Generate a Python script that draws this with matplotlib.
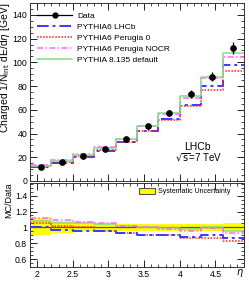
import matplotlib
matplotlib.use("Agg")
import matplotlib.pyplot as plt
import numpy as np
from matplotlib.ticker import MultipleLocator
from matplotlib.lines import Line2D
from matplotlib.patches import Patch

plt.rcParams['font.family'] = ['Liberation Sans', 'DejaVu Sans']

# ---- data ----
eta_edges = [1.9, 2.2, 2.5, 2.8, 3.1, 3.4, 3.7, 4.0, 4.3, 4.6, 4.9]
data_vals = [12.0, 16.0, 21.0, 27.0, 35.0, 46.0, 57.5, 73.0, 88.0, 112.0]
data_errs = [0.6, 0.8, 1.0, 1.3, 1.7, 2.2, 2.7, 3.4, 4.1, 5.3]
ratio_lhcb = [1.00, 0.97, 0.96, 0.95, 0.93, 0.91, 0.91, 0.88, 0.91, 0.87]
ratio_p0 = [1.06, 1.02, 1.00, 0.96, 0.93, 0.91, 0.90, 0.87, 0.87, 0.83]
ratio_nocr = [1.12, 1.09, 1.07, 1.05, 1.02, 1.00, 0.98, 0.96, 0.99, 0.93]
ratio_p8 = [1.08, 1.06, 1.05, 1.04, 1.02, 1.00, 0.99, 0.98, 1.00, 0.96]
syst_lo = [0.90, 0.93, 0.95, 0.96, 0.96, 0.96, 0.96, 0.96, 0.96, 0.96]
syst_hi = [1.12, 1.08, 1.07, 1.05, 1.04, 1.04, 1.04, 1.04, 1.04, 1.05]
x_ticks = [2, 2.5, 3, 3.5, 4, 4.5]
x_tick_labels = ['2', '2.5', '3', '3.5', '4', '4.5']

edges = np.array(eta_edges)
centers = 0.5 * (edges[:-1] + edges[1:])
dv = np.array(data_vals)

def step_y(v):
    v = np.asarray(v)
    return np.append(v, v[-1])

series = [
    ("PYTHIA6 LHCb", ratio_lhcb, dict(color='#3a3aff', lw=1.4, ls=(0, (6, 2, 1.5, 2)))),
    ("PYTHIA6 Perugia 0", ratio_p0, dict(color='#ff2020', lw=1.1, ls=(0, (1, 1)))),
    ("PYTHIA6 Perugia NOCR", ratio_nocr, dict(color='#ff66ff', lw=1.1, ls=(0, (4, 1.5, 1, 1.5)))),
    ("PYTHIA 8.135 default", ratio_p8, dict(color='#88dd88', lw=1.1, ls='-')),
]

W, H = 249, 281
fig = plt.figure(figsize=(W / 100, H / 100), dpi=100)
L, R = 30, 244
ax1 = fig.add_axes([L / W, 1 - 181 / H, (R - L) / W, (181 - 3) / H])
ax2 = fig.add_axes([L / W, 1 - 267 / H, (R - L) / W, (267 - 183) / H])

# top panel
handles = [Line2D([], [], color='black', marker='o', ms=3.5, lw=0.9)]
labels = ['Data']
for label, ratio, st in series:
    ax1.step(edges, step_y(dv * np.array(ratio)), where='post', **st)
    handles.append(Line2D([], [], **st))
    labels.append(label)
ax1.errorbar(centers, dv, yerr=data_errs, fmt='o', color='black', ms=3.8,
             elinewidth=0.9, capsize=0, zorder=5)

ax1.set_xlim(1.9, 4.9)
ax1.set_ylim(0, 150)
ax1.yaxis.set_major_locator(MultipleLocator(20))
ax1.yaxis.set_minor_locator(MultipleLocator(5))
ax1.set_xticks(x_ticks)
ax1.xaxis.set_minor_locator(MultipleLocator(0.1))
ax1.set_xticklabels([])
ax1.set_ylabel(r'Charged 1/N$_{\rm int}$ dE/d$\eta$ [GeV]', fontsize=7.5, loc='top', labelpad=0)

ax1.legend(handles, labels, loc='upper left',
           bbox_to_anchor=(0.01, 0.975), frameon=False, fontsize=6,
           handlelength=4.2, labelspacing=0.38, handletextpad=0.6, borderaxespad=0.2)
ax1.text(38, 71, 'inclusive minbias events', transform=None, fontsize=5.3,
         fontweight='bold', va='center', ha='left')
fig.text(197 / W, 1 - 147 / H, 'LHCb', fontsize=7.5, ha='center', va='center')
fig.text(199 / W, 1 - 158 / H, r'$\sqrt{\rm s}$=7 TeV', fontsize=7, ha='center', va='center')

# bottom panel
ax2.fill_between(edges, step_y(syst_lo), step_y(syst_hi), step='post',
                 facecolor='#ffff00', edgecolor='none', zorder=1)
ax2.axhline(1.0, color='#555555', lw=0.9, zorder=2)
for label, ratio, st in series[::-1]:
    ax2.step(edges, step_y(ratio), where='post', zorder=3, **st)
ax2.set_xlim(1.9, 4.9)
ax2.set_ylim(0.5, 1.56)
ax2.set_yticks([0.6, 0.8, 1.0, 1.2, 1.4])
ax2.set_yticklabels(['0.6', '0.8', '1', '1.2', '1.4'])
ax2.yaxis.set_minor_locator(MultipleLocator(0.05))
ax2.set_xticks(x_ticks)
ax2.set_xticklabels(x_tick_labels)
ax2.xaxis.set_minor_locator(MultipleLocator(0.1))
ax2.set_ylabel('MC/Data', fontsize=6.5, loc='top', labelpad=1)
fig.text(240 / W, 1 - 273 / H, r'$\eta$', fontsize=7, ha='center', va='center')

ax2.legend([Patch(facecolor='#ffff00', edgecolor='#555555', lw=0.8)],
           ['Systematic Uncertainty'], loc='upper right', bbox_to_anchor=(0.96, 1.0),
           frameon=False, fontsize=5, handlelength=2.2, handleheight=0.9,
           handletextpad=0.5, borderaxespad=0.3)

for ax in (ax1, ax2):
    ax.tick_params(which='both', direction='in', top=True, right=True, labelsize=6.3, pad=2)
    ax.tick_params(which='major', length=5, width=0.6)
    ax.tick_params(which='minor', length=2.5, width=0.5)
    for s in ax.spines.values():
        s.set_linewidth(0.7)
        s.set_color('#333333')

fig.savefig('out.png', dpi=100)
